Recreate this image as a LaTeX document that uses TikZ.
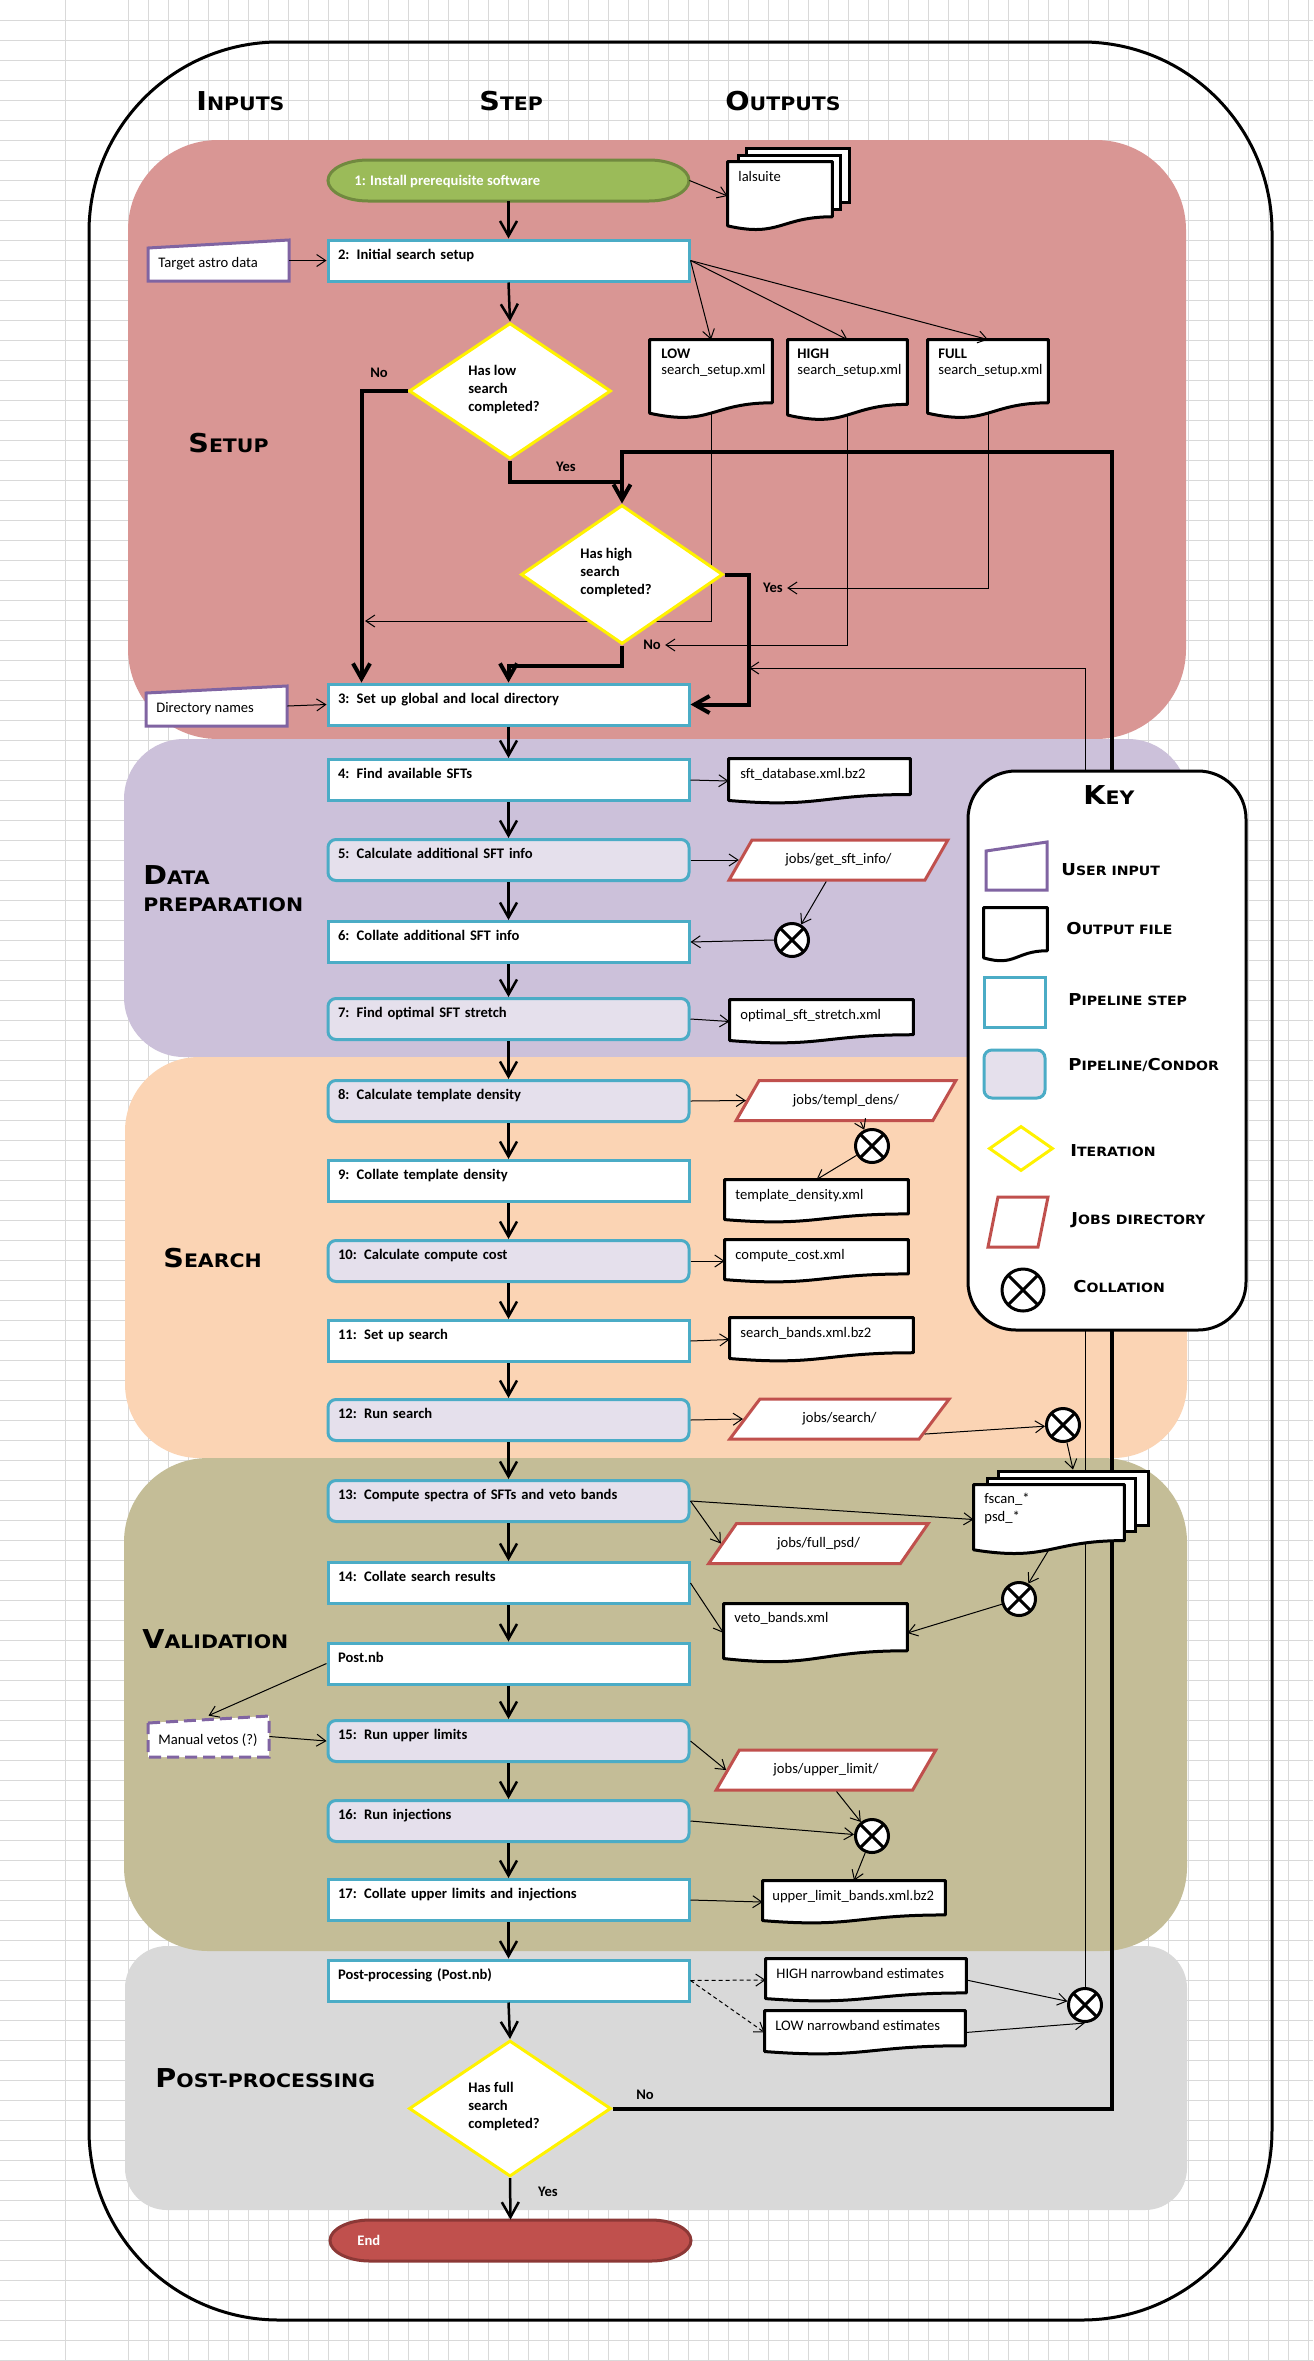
\documentclass[tikz,border=0pt]{standalone}
\usepackage{fontspec}
\setmainfont{Carlito}
\newfontfamily\cop{DejaVu Sans}[FakeStretch=1.1]
\usetikzlibrary{arrows.meta,calc,shapes.geometric}
\pgfdeclarelayer{bgzero}
\pgfdeclarelayer{behind}
\pgfsetlayers{bgzero,behind,main}
\definecolor{gridc}{HTML}{D9D9D9}
\definecolor{setupc}{HTML}{D99694}
\definecolor{prepc}{HTML}{CCC1DA}
\definecolor{searchc}{HTML}{FBD4B4}
\definecolor{validc}{HTML}{C4BD97}
\definecolor{postc}{HTML}{D9D9D9}
\definecolor{stepteal}{HTML}{4BACC6}
\definecolor{condorfill}{HTML}{E5E0EC}
\definecolor{inpurple}{HTML}{8064A2}
\definecolor{jobred}{HTML}{C0504D}
\definecolor{startg}{HTML}{9BBB59}
\definecolor{startgd}{HTML}{71893F}
\definecolor{endr}{HTML}{C0504D}
\definecolor{endrd}{HTML}{8C3836}
\newcommand\hsc[2]{{\fontsize{13}{13}\selectfont #1}{\fontsize{9.3}{9.3}\selectfont #2}}
\newcommand\ksc[2]{{\fontsize{8.2}{8.2}\selectfont #1}{\fontsize{6.4}{6.4}\selectfont #2}}
\newcommand\docshape[5]{%
  \node[docnode, minimum width={#4*0.5pt}, minimum height={#5*0.5pt}] (#1) at ({#2+#4/2},{#3+#5/2}) {};
  \path[docline] (#1.north west) -- (#1.north east) -- ($(#1.north east)!0.802!(#1.south east)$)
    .. controls ($(#1.north)!0.802!(#1.south)$) and ($(#1.north)!1.107!(#1.south)$) ..
    ($(#1.north west)!0.934!(#1.south west)$) -- cycle;}
\newcommand\maninput[7]{%
  \path[#7] (#2,#4) -- (#3,#5) -- (#3,#6) -- (#2,#6) -- cycle;
  \node[inner sep=0, minimum width={(#3-#2)*0.5pt}, minimum height={(#6-#5)*0.5pt}] (#1) at ({(#2+#3)/2},{(#5+#6)/2}) {};}
\newcommand\termpath[5]{%
  \path[#5] ({#1-#3/2+40},{#2-#4/2}) -- ({#1+#3/2-40},{#2-#4/2})
   .. controls ({#1+#3/2-18},{#2-#4/2}) and ({#1+#3/2},{#2-0.275*#4}) .. ({#1+#3/2},#2)
   .. controls ({#1+#3/2},{#2+0.275*#4}) and ({#1+#3/2-18},{#2+#4/2}) .. ({#1+#3/2-40},{#2+#4/2})
   -- ({#1-#3/2+40},{#2+#4/2})
   .. controls ({#1-#3/2+18},{#2+#4/2}) and ({#1-#3/2},{#2+0.275*#4}) .. ({#1-#3/2},#2)
   .. controls ({#1-#3/2},{#2-0.275*#4}) and ({#1-#3/2+18},{#2-#4/2}) .. ({#1-#3/2+40},{#2-#4/2}) -- cycle;}
\begin{document}
\begin{tikzpicture}[x=0.5pt,y=-0.5pt,
 gridl/.style={draw=gridc, line width=0.5pt},
 stepbox/.style={draw=stepteal, line width=1.5pt, fill=white, inner xsep=5pt, inner ysep=0pt, text width=170.5pt, align=left, text height=9.5pt, text depth=11pt, font=\bfseries\fontsize{7.3}{8}\selectfont},
 condor/.style={stepbox, fill=condorfill, rounded corners=4pt},
 termbox/.style={inner sep=0, minimum width=180.5pt, minimum height=20.5pt},
 dmd/.style={diamond, draw=yellow, line width=1.5pt, fill=white, inner sep=0, minimum width=101pt, minimum height=68pt},
 para/.style={trapezium, trapezium left angle=42, trapezium right angle=138, trapezium stretches=true, draw=jobred, line width=1.5pt, fill=white, inner sep=0, minimum width=110pt, minimum height=20pt, font=\fontsize{7.3}{8}\selectfont},
 colnode/.style={circle, draw, line width=1.5pt, fill=white, inner sep=0, minimum size=16.5pt, path picture={\draw[line width=1.5pt] (path picture bounding box.north west) -- (path picture bounding box.south east) (path picture bounding box.south west) -- (path picture bounding box.north east);}},
 docnode/.style={inner sep=0, draw=none},
 docline/.style={draw=black, line width=1.5pt, fill=white, line join=round},
 backdoc/.style={draw=black, line width=1.5pt, fill=white, inner sep=0},
 maninp/.style={draw=inpurple, line width=1.5pt, fill=white},
 txt/.style={inner sep=0, anchor=base west, font=\fontsize{7.3}{8}\selectfont},
 btxt/.style={inner sep=0, anchor=base west, font=\bfseries\fontsize{7.3}{8}\selectfont},
 dtext/.style={inner sep=0, align=left, anchor=west, font=\bfseries\fontsize{7.3}{9}\selectfont},
 yn/.style={inner sep=2pt, font=\bfseries\fontsize{7.3}{8}\selectfont},
 hdr/.style={inner sep=0, anchor=base west, font=\cop\bfseries},
 steparrow/.style={line width=1.25pt, -{Straight Barb[length=7.5pt,width=8.5pt]}},
 thickarrow/.style={line width=2pt, -{Straight Barb[length=7.5pt,width=8.5pt]}},
 thickline/.style={line width=2pt},
 thinarrow/.style={line width=0.5pt, -{Straight Barb[length=4.5pt,width=6pt]}},
 dasharrow/.style={thinarrow, dash pattern=on 2pt off 1.5pt},
]
\useasboundingbox (0,0) rectangle (1313,2361);
\begin{pgfonlayer}{bgzero}
  \fill[white] (0,0) rectangle (1313,2361);
  \foreach \gx in {65,128,148,...,1308} \draw[gridl] (\gx,0) -- (\gx,2361);
  \foreach \gy in {20,40,...,2360} \draw[gridl] (0,\gy) -- (1313,\gy);
  \draw[line width=1.5pt, rounded corners=95pt] (89,42) rectangle (1272,2320);
  \fill[setupc, rounded corners=45pt] (128,140) rectangle (1186,739);
  \fill[prepc, rounded corners=30pt] (124,739) rectangle (1188,1057);
  \fill[searchc, rounded corners=37pt] (125,1057) rectangle (1187,1458);
  \fill[postc, rounded corners=21pt] (125,1946) rectangle (1187,2210);
  \fill[validc, rounded corners=42pt] (124,1458) rectangle (1187,1951);
\end{pgfonlayer}

% headers and band labels
\node[hdr] (hin) at (196,110) {\hsc{I}{NPUTS}};
\node[hdr] (hstep) at (479,110) {\hsc{S}{TEP}};
\node[hdr] (hout) at (725,110) {\hsc{O}{UTPUTS}};
\node[hdr] (lsetup) at (188,452) {\hsc{S}{ETUP}};
\node[hdr] (lprep1) at (143,884) {\hsc{D}{ATA}};
\node[hdr] (lprep2) at (143,911) {{\fontsize{9.3}{9.3}\selectfont PREPARATION}};
\node[hdr] (lsearch) at (163,1267) {\hsc{S}{EARCH}};
\node[hdr] (lvalid) at (142,1648) {\hsc{V}{ALIDATION}};
\node[hdr] (lpost) at (155,2087) {\hsc{P}{OST-PROCESSING}};

% start / end
\node[termbox] (s1) at (508.5,180.5) {};
\termpath{508.5}{180.5}{361}{41}{fill=startg, draw=startgd, line width=1.5pt}
\node[btxt, text=white] (s1t) at (354,185) {1: Install prerequisite software};
\node[termbox] (ende) at (510.5,2240.5) {};
\termpath{510.5}{2240.5}{361}{41}{fill=endr, draw=endrd, line width=1.5pt}
\node[btxt, text=white] (endt) at (357,2245) {End};

% steps
\node[stepbox] (s2) at (508.5,260.5) {2: Initial search setup};
\node[stepbox] (s3) at (508.5,704.5) {3: Set up global and local directory};
\node[stepbox] (s4) at (508.5,780) {4: Find available SFTs};
\node[condor] (s5) at (508.5,860) {5: Calculate additional SFT info};
\node[stepbox] (s6) at (508.5,942) {6: Collate additional SFT info};
\node[condor] (s7) at (508.5,1019) {7: Find optimal SFT stretch};
\node[condor] (s8) at (508.5,1101) {8: Calculate template density};
\node[stepbox] (s9) at (508.5,1181) {9: Collate template density};
\node[condor] (s10) at (508.5,1261) {10: Calculate compute cost};
\node[stepbox] (s11) at (508.5,1341) {11: Set up search};
\node[condor] (s12) at (508.5,1420) {12: Run search};
\node[condor] (s13) at (508.5,1501) {13: Compute spectra of SFTs and veto bands};
\node[stepbox] (s14) at (508.5,1583) {14: Collate search results};
\node[stepbox] (spost) at (508.5,1663.5) {Post.nb};
\node[condor] (s15) at (508.5,1741) {15: Run upper limits};
\node[condor] (s16) at (508.5,1821) {16: Run injections};
\node[stepbox] (s17) at (508.5,1900) {17: Collate upper limits and injections};
\node[stepbox] (spp) at (508.5,1980.5) {Post-processing (Post.nb)};

% decisions
\node[dmd] (d1) at (510,391) {};
\node[dmd, minimum height=69.5pt] (d2) at (622,574.5) {};
\node[dmd] (d3) at (510,2108.5) {};
\node[dtext] (d1t) at (468,390) {Has low\\search\\completed?};
\node[dtext] (d2t) at (580,572.5) {Has high\\search\\completed?};
\node[dtext] (d3t) at (468,2106.5) {Has full\\search\\completed?};
\node[yn] (no1) at (379,373) {No};
\node[yn] (yes1) at (566,467) {Yes};
\node[yn] (yes2) at (773,588) {Yes};
\node[yn] (no2) at (652,645) {No};
\node[yn] (no3) at (645,2095) {No};
\node[yn] (yes3) at (548,2192) {Yes};

% user inputs
\maninput{tad}{148}{289}{248}{240}{281}{maninp}
\node[txt] (tadt) at (158,267) {Target astro data};
\maninput{dirn}{146}{287}{693}{686}{726}{maninp}
\node[txt] (dirnt) at (156,712) {Directory names};
\maninput{mv}{148}{269}{1723}{1716}{1757}{maninp, dash pattern=on 6pt off 3pt}
\node[txt] (mvt) at (158,1744) {Manual vetos (?)};

% output files
\node[backdoc, minimum width=51.5pt, minimum height=27pt] (lalC) at (797.5,175) {};
\node[backdoc, minimum width=51pt, minimum height=27pt] (lalB) at (789,182) {};
\docshape{lal}{728}{162}{104}{68}
\node[txt] (lalt) at (738,181) {lalsuite};
\docshape{lowdoc}{650}{340}{122}{78}
\node[btxt] (lowt1) at (661,358) {LOW};
\node[txt] (lowt2) at (661,374) {search\_setup.xml};
\docshape{highdoc}{788}{340}{119}{80}
\node[btxt] (hight1) at (797,358) {HIGH};
\node[txt] (hight2) at (797,374) {search\_setup.xml};
\docshape{fulldoc}{928}{340}{120}{78}
\node[btxt] (fullt1) at (938,358) {FULL};
\node[txt] (fullt2) at (938,374) {search\_setup.xml};
\docshape{sftdb}{729}{759}{181}{44}
\node[txt] (sftdbt) at (740,778) {sft\_database.xml.bz2};
\docshape{opt}{730}{1000}{183}{43}
\node[txt] (optt) at (740,1019) {optimal\_sft\_stretch.xml};
\docshape{tdens}{725}{1180}{183}{42}
\node[txt] (tdenst) at (735,1199) {template\_density.xml};
\docshape{ccost}{725}{1240}{183}{42}
\node[txt] (ccostt) at (735,1259) {compute\_cost.xml};
\docshape{sbands}{730}{1318}{183}{43}
\node[txt] (sbandst) at (740,1337) {search\_bands.xml.bz2};
\node[backdoc, minimum width=75pt, minimum height=27pt] (fsC) at (1073,1498) {};
\node[backdoc, minimum width=74pt, minimum height=26.5pt] (fsB) at (1061,1504.5) {};
\docshape{fs}{974}{1485}{150}{69}
\node[txt] (fst1) at (984,1503) {fscan\_*};
\node[txt] (fst2) at (984,1521) {psd\_*};
\docshape{veto}{724}{1604}{183}{58}
\node[txt] (vetot) at (734,1622) {veto\_bands.xml};
\docshape{ulb}{763}{1881}{182}{42}
\node[txt] (ulbt) at (772,1900) {upper\_limit\_bands.xml.bz2};
\docshape{hnb}{766}{1959}{200}{42}
\node[txt] (hnbt) at (776,1978) {HIGH narrowband estimates};
\docshape{lnb}{765}{2011}{200}{43}
\node[txt] (lnbt) at (775,2030) {LOW narrowband estimates};

% jobs directories
\node[para] (p5) at (838.5,860) {jobs/get\_sft\_info/};
\node[para] (p8) at (846,1100.5) {jobs/templ\_dens/};
\node[para] (p12) at (839.5,1419) {jobs/search/};
\node[para] (p13) at (818.5,1543.5) {jobs/full\_psd/};
\node[para] (p15) at (826,1770) {jobs/upper\_limit/};

% collations
\node[colnode] (col5) at (792,940) {};
\node[colnode] (col8) at (872,1146) {};
\node[colnode] (col12) at (1063,1425) {};
\node[colnode] (colv) at (1019,1599) {};
\node[colnode] (col15) at (872,1836) {};
\node[colnode] (ncol) at (1085,2005) {};

% key
\node[draw, line width=1.5pt, fill=white, rounded corners=24pt, minimum width=139pt, minimum height=279.5pt, inner sep=0] (key) at (1107,1050.5) {};
\node[hdr] (keyt) at (1083,804) {\hsc{K}{EY}};
\maninput{keyui}{986}{1047}{851}{842}{890}{maninp}
\docshape{keydoc}{984}{908}{63}{53}
\node[draw=stepteal, line width=1.5pt, fill=white, minimum width=30.5pt, minimum height=25pt, inner sep=0] (keystep) at (1014.5,1002) {};
\node[draw=stepteal, line width=1.5pt, fill=condorfill, rounded corners=4pt, minimum width=30.5pt, minimum height=24pt, inner sep=0] (keycondor) at (1014.5,1074) {};
\node[dmd, minimum width=32pt, minimum height=22.5pt] (keyit) at (1021,1148.5) {};
\node[inner sep=0, minimum width=30pt, minimum height=25pt] (keyjobs) at (1018,1222) {};
\path[draw=jobred, line width=1.5pt, fill=white] (988,1247) -- (998,1197) -- (1048,1197) -- (1038,1247) -- cycle;
\node[colnode, minimum size=21pt] (keycol) at (1023,1290) {};
\node[hdr] (k1) at (1061,875) {\ksc{U}{SER INPUT}};
\node[hdr] (k2) at (1066,934) {\ksc{O}{UTPUT FILE}};
\node[hdr] (k3) at (1068,1005) {\ksc{P}{IPELINE STEP}};
\node[hdr] (k4) at (1068,1070) {\ksc{P}{IPELINE/}\ksc{C}{ONDOR}};
\node[hdr] (k5) at (1070,1156) {\ksc{I}{TERATION}};
\node[hdr] (k6) at (1071,1224) {\ksc{J}{OBS DIRECTORY}};
\node[hdr] (k7) at (1073,1292) {\ksc{C}{OLLATION}};

% helper coordinates
\coordinate (j1) at (622,482);
\coordinate (loopc) at (1112,452);
\coordinate (lowtgt) at (365,621);
\coordinate (rtgt) at (749,668);

% lines running behind shapes
\begin{pgfonlayer}{behind}
  \draw[thinarrow] (lowdoc.center) |- (lowtgt);
  \draw[thinarrow] (highdoc.center) |- (no2.east);
  \draw[thinarrow] (fulldoc.center) |- (yes2.east);
  \draw[thinarrow] (ncol.center) |- (rtgt);
  \draw[thickline] (d3.east) -| (loopc) -| (j1);
\end{pgfonlayer}

% main flow arrows
\foreach \a/\b in {s1/s2,s2/d1,s3/s4,s4/s5,s5/s6,s6/s7,s7/s8,s8/s9,s9/s10,s10/s11,s11/s12,s12/s13,s13/s14,s14/spost,spost/s15,s15/s16,s16/s17,s17/spp,spp/d3,d3/ende}
  \draw[steparrow] (\a.south) -- (\b.north);
\draw[thickarrow] (d1.west) -| ($(s3.north west)+(35,0)$);
\draw[thickarrow] (d1.south) |- (j1) -- (d2.north);
\draw[thickarrow] (d2.east) -- ++(24,0) |- (s3.east);
\draw[thickarrow] (d2.south) -- ++(0,20) -| (s3.north);

% thin arrows
\draw[thinarrow] (s1.east) -- (lal.west);
\draw[thinarrow] (tad.east) -- (s2.west);
\draw[thinarrow] (s2.east) -- (lowdoc.north);
\draw[thinarrow] (s2.east) -- (highdoc.north);
\draw[thinarrow] (s2.east) -- (fulldoc.north);
\draw[thinarrow] (dirn.east) -- (s3.west);
\draw[thinarrow] (s4.east) -- (sftdb.west);
\draw[thinarrow] (s5.east) -- (p5.left side);
\draw[thinarrow] (p5.bottom side) -- (col5);
\draw[thinarrow] (col5.west) -- (s6.east);
\draw[thinarrow] (s7.east) -- (opt.west);
\draw[thinarrow] (s8.east) -- (p8.left side);
\draw[thinarrow] ($(p8.bottom side)+(27,0)$) -- (col8);
\draw[thinarrow] (col8) -- (tdens.north);
\draw[thinarrow] (s10.east) -- (ccost.west);
\draw[thinarrow] (s11.east) -- (sbands.west);
\draw[thinarrow] (s12.east) -- (p12.left side);
\draw[thinarrow] ($(p12.bottom right corner)!0.15!(p12.top right corner)$) -- (col12);
\draw[thinarrow] (col12) -- (fsC.north);
\draw[thinarrow] (s13.east) -- (fs.west);
\draw[thinarrow] (s13.east) -- (p13.left side);
\draw[thinarrow] (s14.east) -- (veto.west);
\draw[thinarrow] ($(fs.north)!0.93!(fs.south)$) -- (colv);
\draw[thinarrow] (colv) -- (veto.east);
\draw[thinarrow] (spost.west) -- (mv.north);
\draw[thinarrow] (mv.east) -- (s15.west);
\draw[thinarrow] (s15.east) -- (p15.left side);
\draw[thinarrow] ($(p15.bottom side)+(23,0)$) -- (col15);
\draw[thinarrow] (s16.east) -- (col15);
\draw[thinarrow] (col15) -- (ulb.north);
\draw[thinarrow] (s17.east) -- (ulb.west);
\draw[dasharrow] (spp.east) -- (hnb.west);
\draw[dasharrow] (spp.east) -- (lnb.west);
\draw[thinarrow] (hnb.east) -- (ncol);
\draw[thinarrow] (lnb.east) -- (ncol.south);
\end{tikzpicture}
\end{document}
